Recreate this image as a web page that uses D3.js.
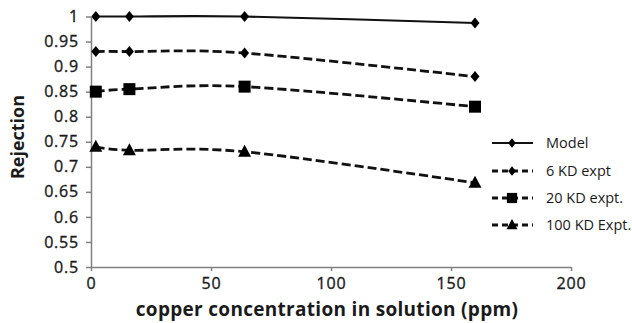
<!DOCTYPE html>
<html>
<head>
<meta charset="utf-8">
<script src="https://cdn.jsdelivr.net/npm/d3@7"></script>
<style>
  body { margin: 0; background: #fff; }
  text { font-family: "Open Sans", sans-serif; fill: #1a1a1a; }
</style>
</head>
<body>
<svg id="chart"></svg>
<script>
//Data
var concentration = [2, 16, 64, 160];
var modelValues = [1.0, 1.0, 1.0, 0.987];
var kd6Values = [0.93, 0.93, 0.927, 0.88];
var kd20Values = [0.85, 0.855, 0.86, 0.82];
var kd100Values = [0.74, 0.733, 0.73, 0.668];
var seriesNames = ["Model", "6 KD expt", "20 KD expt.", "100 KD Expt."];
var markerTypes = ["diamond", "diamond", "square", "triangle"];
var xTicks = [0, 50, 100, 150, 200];
var yTicks = [0.5, 0.55, 0.6, 0.65, 0.7, 0.75, 0.8, 0.85, 0.9, 0.95, 1];

var seriesValues = [modelValues, kd6Values, kd20Values, kd100Values];

//Graph dimensions
var dimensions = {
    width: 632,
    height: 323,
    margin: { top: 16.5, right: 61, bottom: 56, left: 91 }
};

var svg = d3.select("#chart")
            .attr("width", dimensions.width)
            .attr("height", dimensions.height);

//Scales
var xScale = d3.scaleLinear()
               .domain([0, 200])
               .range([dimensions.margin.left, dimensions.width - dimensions.margin.right]);

var yScale = d3.scaleLinear()
               .domain([0.5, 1])
               .range([dimensions.height - dimensions.margin.bottom, dimensions.margin.top]);

//X-axis
var xAxis = svg.append("g")
               .attr("transform", "translate(0," + yScale(0.5) + ")")
               .call(d3.axisBottom(xScale).tickValues(xTicks).tickSize(4).tickSizeOuter(0).tickPadding(6));
xAxis.selectAll("text")
     .style("font-size", "16px")
     .style("letter-spacing", "0.8px")
     .style("stroke", "#1a1a1a")
     .style("stroke-width", "0.35px")
     .attr("dy", "0.75em");

//Y-axis
var yAxis = svg.append("g")
               .attr("transform", "translate(" + xScale(0) + ",0)")
               .call(d3.axisLeft(yScale).tickValues(yTicks).tickSize(5).tickSizeOuter(0).tickPadding(7)
                       .tickFormat(function(d){ return String(+d.toFixed(2)); }));
yAxis.selectAll("text")
     .style("font-size", "16px")
     .style("letter-spacing", "0.8px")
     .style("stroke", "#1a1a1a")
     .style("stroke-width", "0.35px");

svg.selectAll(".domain, .tick line").attr("stroke", "#808080").attr("stroke-width", 1.5);

//Axis titles
svg.append("text")
   .attr("x", 327)
   .attr("y", 316)
   .attr("text-anchor", "middle")
   .style("font-size", "19px")
   .style("font-weight", "bold")
   .style("letter-spacing", "0.3px")
   .text("copper concentration in solution (ppm)");

svg.append("text")
   .attr("transform", "translate(24,137) rotate(-90)")
   .attr("text-anchor", "middle")
   .style("font-size", "18px")
   .style("font-weight", "bold")
   .text("Rejection");

//Marker shapes
function markerPath(type) {
    if (type === "diamond") return "M0,-5.5L4.5,0L0,5.5L-4.5,0Z";
    if (type === "square") return "M-6,-6L6,-6L6,6L-6,6Z";
    return "M0,-7L6.5,5L-6.5,5Z";
}

var line = d3.line()
             .x(function(d){ return xScale(d[0]); })
             .y(function(d){ return yScale(d[1]); })
             .curve(d3.curveCardinal.tension(0));

//Series
seriesValues.forEach(function(values, i){
    var points = concentration.map(function(c, j){ return [c, values[j]]; });
    var g = svg.append("g");
    g.append("path")
     .datum(points)
     .attr("d", line)
     .attr("fill", "none")
     .attr("stroke", "#111")
     .attr("stroke-width", i === 0 ? 2.2 : 2.8)
     .attr("stroke-dasharray", i === 0 ? null : "9,4");
    g.selectAll("path.marker")
     .data(points)
     .join("path")
     .attr("class", "marker")
     .attr("transform", function(d){ return "translate(" + xScale(d[0]) + "," + yScale(d[1]) + ")"; })
     .attr("d", markerPath(markerTypes[i]))
     .attr("fill", "#000");
});

//Legend
var legendRows = [143, 171, 198, 225];
var legend = svg.append("g");
seriesNames.forEach(function(name, i){
    var row = legend.append("g").attr("transform", "translate(0," + legendRows[i] + ")");
    row.append("line")
       .attr("x1", 492).attr("x2", 533)
       .attr("stroke", "#111")
       .attr("stroke-width", i === 0 ? 2.2 : 2.8)
       .attr("stroke-dasharray", i === 0 ? null : "6,4");
    row.append("path")
       .attr("transform", "translate(512,0) scale(0.85)")
       .attr("d", markerPath(markerTypes[i]))
       .attr("fill", "#000");
    row.append("text")
       .attr("x", 546)
       .attr("dy", "0.35em")
       .style("font-size", "14.5px")
       .text(name);
});
</script>
</body>
</html>
